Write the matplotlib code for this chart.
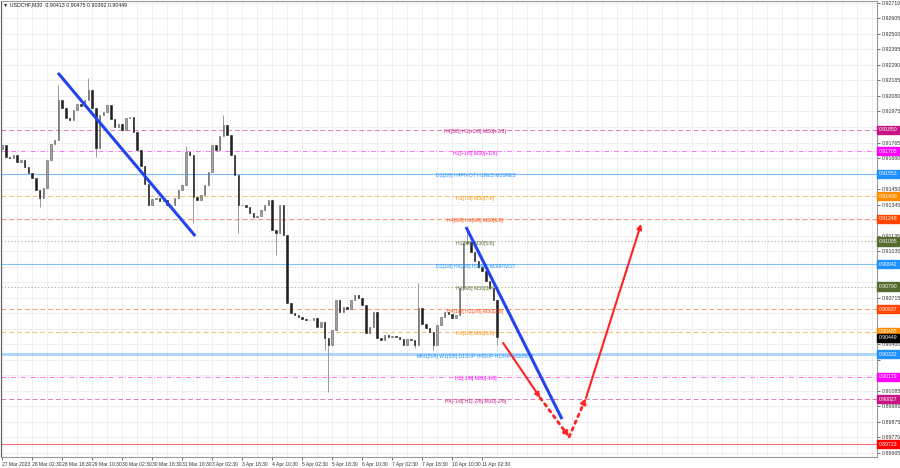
import matplotlib
matplotlib.use("Agg")
import numpy as np
import matplotlib.pyplot as plt
from matplotlib.transforms import blended_transform_factory

plt.rcParams['font.family'] = ['Liberation Sans', 'DejaVu Sans']

# --- data (2h candles, index = bar number) ---
closes = [
    0.91748, 0.91667, 0.91660, 0.91681, 0.91633, 0.91647, 0.91600, 0.91559, 0.91525, 0.91444,
    0.91390, 0.91457, 0.91647, 0.91755, 0.91782, 0.92053, 0.91999, 0.91931, 0.91918, 0.91985,
    0.92026, 0.92013, 0.92053, 0.92121, 0.91999, 0.91728, 0.91952, 0.91972, 0.92019, 0.91925,
    0.91870, 0.91891, 0.91850, 0.91931, 0.91938, 0.91836, 0.91715, 0.91606, 0.91484, 0.91342,
    0.91383, 0.91390, 0.91369, 0.91376, 0.91342, 0.91342, 0.91390, 0.91444, 0.91478, 0.91701,
    0.91681, 0.91396, 0.91376, 0.91410, 0.91478, 0.91566, 0.91748, 0.91715, 0.91809, 0.91884,
    0.91816, 0.91681, 0.91545, 0.91342, 0.91342, 0.91329, 0.91288, 0.91261, 0.91268, 0.91308,
    0.91342, 0.91376, 0.91173, 0.91153, 0.91342, 0.91139, 0.90679, 0.90611, 0.90598, 0.90584,
    0.90571, 0.90564, 0.90564, 0.90577, 0.90516, 0.90550, 0.90442, 0.90394, 0.90496, 0.90699,
    0.90618, 0.90652, 0.90638, 0.90699, 0.90733, 0.90713, 0.90665, 0.90476, 0.90516, 0.90618,
    0.90442, 0.90428, 0.90462, 0.90449, 0.90455, 0.90449, 0.90435, 0.90394, 0.90435, 0.90428,
    0.90394, 0.90645, 0.90537, 0.90510, 0.90483, 0.90394, 0.90530, 0.90584, 0.90618, 0.90604,
    0.90577, 0.90598, 0.90780, 0.91085, 0.91092, 0.91024, 0.90963, 0.90923, 0.90895, 0.90828,
    0.90780, 0.90699, 0.90449,
]
first_open = 0.91720

# notable wick extremes
wick_high = {15: 0.92155, 23: 0.92202, 59: 0.91952, 111: 0.90814, 124: 0.91173, 49: 0.91740}
wick_low = {10: 0.91328, 25: 0.91667, 51: 0.91220, 63: 0.91153, 73: 0.91004, 87: 0.90076,
            86: 0.90361, 115: 0.90361, 110: 0.90375, 132: 0.90392}

time_labels = ["27 Mar 2023", "28 Mar 02:30", "28 Mar 18:30", "29 Mar 10:30", "30 Mar 02:30",
               "30 Mar 18:30", "31 Mar 10:30", "3 Apr 02:30", "3 Apr 18:30", "4 Apr 10:30",
               "5 Apr 02:30", "5 Apr 18:30", "6 Apr 10:30", "7 Apr 02:30", "7 Apr 18:30",
               "10 Apr 10:30", "11 Apr 02:30"]

level_prices = [0.91850, 0.91705, 0.91553, 0.91400, 0.91248, 0.91095, 0.90942,
                0.90790, 0.90637, 0.90485, 0.90332, 0.90179, 0.90027, 0.89723]
level_labels = ["H4[5/8] H1[+2/8] M30[+2/8]", "H1[+1/8] M30[+1/8]",
                "D1[2/8] H4PIVOT H1RES M30RES", "H1[7/8] M30[7/8]",
                "H4[3/8] H1[6/8] M30[6/8]", "H1[5/8] M30[5/8]",
                "D1[1/8] H4[2/8] H1[4/8] M30PIVOT", "H1[3/8] M30[3/8]",
                "H4[1/8] H1[2/8] M30[2/8]", "H1[1/8] M30[1/8]",
                "MN1[5/8] W1[5/8] D1SUP H4SUP H1SUP M30SUP", "H1[-1/8] M30[-1/8]",
                "H4[-1/8] H1[-2/8] M30[-2/8]", ""]
last_price = 0.90449

trend_lines = [((14.9, 0.92236), (51.5, 0.91132)),
               ((123.7, 0.91193), (149.3, 0.89893))]
forecast_x = [133.6, 143.5, 151.2, 155.7, 170.4]
forecast_y = [0.90408, 0.90036, 0.89772, 0.90036, 0.91214]

# --- styles ---
level_colors = ['#C71585', '#FF00FF', '#1E90FF', '#FF8C00', '#FF4500', '#556B2F', '#1E90FF',
                '#556B2F', '#FF4500', '#FF8C00', '#1E90FF', '#FF00FF', '#C71585', '#FF0000']
level_ls = [(0, (5, 3)), (0, (5, 2, 1, 2)), '-', (0, (5, 3)), (0, (5, 3)), (0, (1, 2)), '-',
            (0, (1, 2)), (0, (5, 3)), (0, (5, 3)), '-', (0, (5, 2, 1, 2)), (0, (5, 3)), '-']
level_lw = [0.7, 0.7, 0.8, 0.7, 0.7, 0.8, 0.8, 0.8, 0.7, 0.7, 2.2, 0.7, 0.7, 0.8]

fig = plt.figure(figsize=(9, 4.68), dpi=100)
ax = fig.add_axes([1 / 900, 11 / 468, 876 / 900, 456 / 468])

n = len(closes)
idx = np.arange(n)
opens = np.array([first_open] + closes[:-1])
cl = np.array(closes)
hi = np.maximum(opens, cl)
lo = np.minimum(opens, cl)
for k, v in wick_high.items():
    hi[k] = max(hi[k], v)
for k, v in wick_low.items():
    lo[k] = min(lo[k], v)

ax.set_xlim(-0.3, 233.3)
ax.set_ylim(0.89636, 0.92723)

# grid
yticks = np.round(0.92710 - 0.00105 * np.arange(30), 5)
for y in yticks:
    ax.axhline(y, color='#ececec', lw=0.6, zorder=0)
for x in np.arange(0, 234, 4):
    ax.axvline(x, color='#ececec', lw=0.6, zorder=0)

# levels
for p, c, ls, lw in zip(level_prices, level_colors, level_ls, level_lw):
    ax.axhline(p, color=c, ls=ls, lw=lw, alpha=0.35 if lw > 1 else 0.55, zorder=1)
for p, lab, c in zip(level_prices, level_labels, level_colors):
    if lab:
        ax.text(126.2, p - 0.00013, lab, color=c, fontsize=3.7, ha='center', va='center',
                zorder=4)

# candles
up = cl >= opens
ax.vlines(idx, lo, hi, color='#8a8a8a', lw=0.6, zorder=2)
ax.bar(idx[up], (cl - opens)[up], bottom=opens[up], width=0.4, color='#a0a0a0',
       edgecolor='#606060', lw=0.4, zorder=3)
ax.bar(idx[~up], (cl - opens)[~up], bottom=opens[~up], width=0.4, color='#202020',
       edgecolor='#202020', lw=0.4, zorder=3)

# trend lines
for (x0, y0), (x1, y1) in trend_lines:
    ax.plot([x0, x1], [y0, y1], color='#2244ee', lw=2.2, solid_capstyle='butt', zorder=5)

# forecast arrows
styles = ['-', ':', ':', '-']
for k in range(4):
    ax.annotate('', xy=(forecast_x[k + 1], forecast_y[k + 1]),
                xytext=(forecast_x[k], forecast_y[k]),
                arrowprops=dict(arrowstyle='-|>', color='#ff2222', lw=1.5 if k in (0, 3) else 2.0,
                                ls=styles[k], mutation_scale=7, shrinkA=0, shrinkB=0),
                zorder=6)

# axes look
for s in ax.spines.values():
    s.set_color('#9a9a9a')
    s.set_linewidth(0.8)
ax.spines['left'].set_color('#606060')
ax.yaxis.tick_right()
ax.set_yticks(yticks)
tag_prices = level_prices + [last_price]
ax.set_yticklabels([f"{v:.5f}" if min(abs(v - t) for t in tag_prices) > 0.00038 else ""
                    for v in yticks])
ax.tick_params(axis='y', labelsize=3.8, length=2, width=0.5, pad=1.5, colors='#333333')
ax.set_xticks(np.arange(0, 8 * len(time_labels), 8))
ax.set_xticklabels(time_labels, ha='left')
ax.tick_params(axis='x', labelsize=3.6, length=2, width=0.5, pad=1.5, colors='#333333')

# price tags on the right axis
tr = blended_transform_factory(ax.transAxes, ax.transData)
for p, c in zip(level_prices, level_colors):
    ax.text(1.002, p, f"{p:.5f}", transform=tr, fontsize=3.7, color='white', va='center',
            ha='left', clip_on=False, zorder=10,
            bbox=dict(boxstyle='square,pad=0.3', fc=c, ec=c))
ax.text(1.002, last_price - 0.00006, f"{last_price:.5f}", transform=tr, fontsize=3.7,
        color='white', va='center', ha='left', clip_on=False, zorder=11,
        bbox=dict(boxstyle='square,pad=0.3', fc='black', ec='black'))

fig.text(3 / 900, 1 - 5 / 468, "\u25bc USDCHF,M30  0.90413 0.90475 0.90392 0.90449",
         fontsize=3.8, va='center', ha='left', color='#222222')

fig.savefig("out.png", dpi=100)
